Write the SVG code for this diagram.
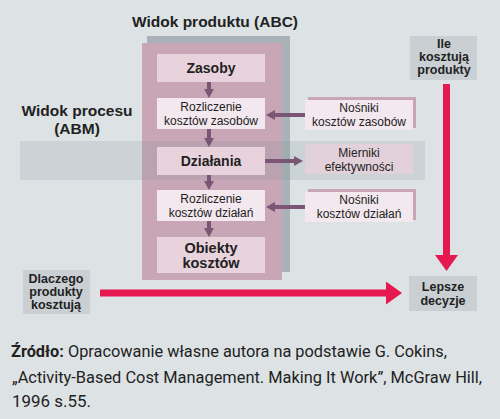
<svg xmlns="http://www.w3.org/2000/svg" width="500" height="419" viewBox="0 0 500 419">
<style>
.t{font-family:"Liberation Sans",Arial,sans-serif;fill:#222;text-anchor:middle}
.b{font-weight:bold}
.pline{stroke:#7b5574;stroke-width:4;fill:none}
.rline{stroke:#e5194f;stroke-width:7;fill:none}
.cap{font-family:"Liberation Sans Narrow","Roboto","Liberation Sans",sans-serif;font-size:17px;fill:#222}
</style>
<defs>
<marker id="pa" viewBox="0 0 9 10" refX="0" refY="5" markerWidth="9" markerHeight="10" markerUnits="userSpaceOnUse" orient="auto"><path d="M0,0 L9,5 L0,10 z" fill="#7b5574"/></marker>
<marker id="ra" viewBox="0 0 16 23" refX="0" refY="11.5" markerWidth="16" markerHeight="23" markerUnits="userSpaceOnUse" orient="auto"><path d="M0,0 L16,11.5 L0,23 z" fill="#e5194f"/></marker>
</defs>
<rect x="0" y="0" width="500" height="419" fill="#dde2e5"/>

<g id="product-view">
<rect x="147" y="36" width="143" height="236" fill="#a9b2b8"/>
<rect x="142" y="43" width="140" height="237" fill="#c9a6b6"/>
<text class="t b" x="215" y="27" font-size="15.5">Widok produktu (ABC)</text>
</g>

<g id="process-view">
<rect x="20" y="141" width="405" height="39" fill="#7d8e99" fill-opacity="0.18"/>
<text class="t b" x="77" y="116" font-size="15.5">Widok procesu</text>
<text class="t b" x="77" y="134" font-size="15.5">(ABM)</text>
</g>

<g id="zasoby">
<rect x="157" y="54" width="108" height="28" fill="#e8d3dd"/>
<text class="t b" x="211" y="73" font-size="14">Zasoby</text>
</g>
<g id="rozliczenie-zasobow">
<rect x="157" y="98" width="108" height="31" fill="#f3e8ee"/>
<text class="t" x="211" y="111" font-size="12">Rozliczenie</text>
<text class="t" x="211" y="125" font-size="12">kosztów zasobów</text>
</g>
<g id="dzialania">
<rect x="157" y="147" width="108" height="28" fill="#e8d3dd"/>
<text class="t b" x="211" y="166" font-size="14">Działania</text>
</g>
<g id="rozliczenie-dzialan">
<rect x="157" y="190" width="108" height="31" fill="#f3e8ee"/>
<text class="t" x="211" y="203" font-size="12">Rozliczenie</text>
<text class="t" x="211" y="217" font-size="12">kosztów działań</text>
</g>
<g id="obiekty">
<rect x="157" y="237" width="108" height="36" fill="#e8d3dd"/>
<text class="t b" x="211" y="253" font-size="14.5">Obiekty</text>
<text class="t b" x="211" y="268" font-size="14.5">kosztów</text>
</g>

<g id="nosniki-zasobow">
<rect x="308" y="97" width="108" height="31" fill="#c9a6b6"/>
<rect x="305" y="100" width="108" height="30" fill="#f3e8ee"/>
<text class="t" x="359" y="112" font-size="12">Nośniki</text>
<text class="t" x="359" y="126" font-size="12">kosztów zasobów</text>
</g>
<g id="mierniki">
<rect x="305" y="144" width="108" height="30" fill="#e3d1da"/>
<text class="t" x="359" y="157" font-size="12">Mierniki</text>
<text class="t" x="359" y="171" font-size="12">efektywności</text>
</g>
<g id="nosniki-dzialan">
<rect x="308" y="189" width="108" height="31" fill="#c9a6b6"/>
<rect x="305" y="192" width="108" height="30" fill="#f3e8ee"/>
<text class="t" x="359" y="204" font-size="12">Nośniki</text>
<text class="t" x="359" y="218" font-size="12">kosztów działań</text>
</g>

<g id="ile-kosztuja">
<rect x="410" y="36" width="67" height="44" fill="#c9cfd3"/>
<text class="t b" x="444" y="48" font-size="12.5">Ile</text>
<text class="t b" x="444" y="61" font-size="12.5">kosztują</text>
<text class="t b" x="444" y="74" font-size="12.5">produkty</text>
</g>
<g id="dlaczego">
<rect x="23" y="270" width="67" height="44" fill="#c9cfd3"/>
<text class="t b" x="56" y="283" font-size="12.5">Dlaczego</text>
<text class="t b" x="56" y="296" font-size="12.5">produkty</text>
<text class="t b" x="56" y="309" font-size="12.5">kosztują</text>
</g>
<g id="lepsze">
<rect x="409" y="276" width="68" height="35" fill="#c9cfd3"/>
<text class="t b" x="443" y="291" font-size="12.5">Lepsze</text>
<text class="t b" x="443" y="305" font-size="12.5">decyzje</text>
</g>

<g id="connectors">
<line class="pline" x1="209" y1="82" x2="209" y2="89" marker-end="url(#pa)"/>
<line class="pline" x1="209" y1="129" x2="209" y2="138" marker-end="url(#pa)"/>
<line class="pline" x1="209" y1="175" x2="209" y2="181" marker-end="url(#pa)"/>
<line class="pline" x1="209" y1="221" x2="209" y2="228" marker-end="url(#pa)"/>
<line class="pline" x1="305" y1="115" x2="275" y2="115" marker-end="url(#pa)"/>
<line class="pline" x1="265" y1="161" x2="294" y2="161" marker-end="url(#pa)"/>
<line class="pline" x1="305" y1="207" x2="275" y2="207" marker-end="url(#pa)"/>
<line class="rline" x1="446.5" y1="84" x2="446.5" y2="255" marker-end="url(#ra)"/>
<line class="rline" x1="100" y1="293" x2="386" y2="293" marker-end="url(#ra)"/>
</g>

<g id="caption">
<text class="cap" x="11" y="357" textLength="436" lengthAdjust="spacingAndGlyphs"><tspan font-weight="bold">Źródło:</tspan> Opracowanie własne autora na podstawie G. Cokins,</text>
<text class="cap" x="12" y="383" textLength="470" lengthAdjust="spacingAndGlyphs">„Activity-Based Cost Management. Making It Work”, McGraw Hill,</text>
<text class="cap" x="12" y="407" textLength="79" lengthAdjust="spacingAndGlyphs">1996 s.55.</text>
</g>
</svg>
